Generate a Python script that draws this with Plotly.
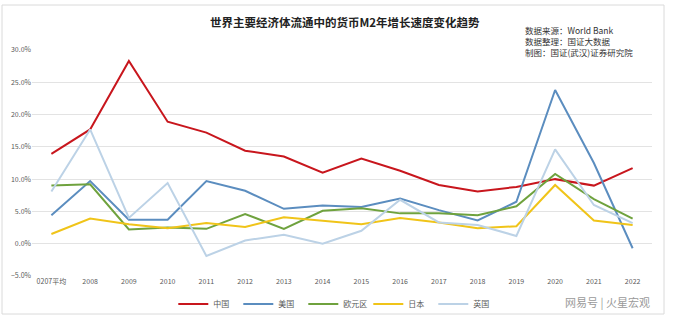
import plotly.graph_objects as go

categories = ["0207平均", "2008", "2009", "2010", "2011", "2012", "2013", "2014",
              "2015", "2016", "2017", "2018", "2019", "2020", "2021", "2022"]
china = [13.9, 17.7, 28.3, 18.9, 17.2, 14.4, 13.5, 11.0, 13.2, 11.3, 9.1, 8.1, 8.8, 10.0, 9.0, 11.7]
usa = [4.4, 9.7, 3.7, 3.7, 9.7, 8.2, 5.4, 5.9, 5.7, 7.0, 5.2, 3.6, 6.5, 23.8, 12.5, -0.7]
euro = [9.0, 9.2, 2.2, 2.5, 2.3, 4.6, 2.3, 5.1, 5.5, 4.7, 4.7, 4.4, 5.8, 10.8, 6.9, 3.9]
japan = [1.5, 3.9, 3.0, 2.4, 3.2, 2.6, 4.1, 3.6, 3.0, 4.0, 3.3, 2.4, 2.7, 9.1, 3.6, 2.9]
uk = [8.1, 17.7, 4.0, 9.4, -1.9, 0.5, 1.4, 0.0, 2.0, 6.8, 3.3, 2.9, 1.2, 14.6, 6.0, 3.2]

series = [
    ("中国", china, "#C8161D"),
    ("美国", usa, "#5B8DBF"),
    ("欧元区", euro, "#6FA23E"),
    ("日本", japan, "#F0C419"),
    ("英国", uk, "#BCD2E6"),
]

FONT = "Noto Sans CJK SC"
fig = go.Figure()
for name, vals, col in series:
    fig.add_trace(go.Scatter(x=categories, y=vals, name=name, mode="lines",
                             line=dict(color=col, width=2)))

fig.update_layout(
    width=673, height=333,
    margin=dict(l=32, r=21, t=50, b=57),
    paper_bgcolor="white", plot_bgcolor="white",
    font=dict(family=FONT, size=7, color="#595959"),
    showlegend=True,
    legend=dict(orientation="h", x=0.49, xanchor="center", y=-0.06, yanchor="top",
                font=dict(size=8, color="#595959", family=FONT), itemwidth=30,
                entrywidth=20, entrywidthmode="pixels",
                bgcolor="rgba(0,0,0,0)", tracegroupgap=0),
    xaxis=dict(type="category", range=[-0.5, 15.5], showgrid=False, showline=False,
               zeroline=False, ticks="", tickfont=dict(size=7, color="#595959")),
    yaxis=dict(range=[-5, 30], dtick=5, tickformat=".1f", ticksuffix="%",
               showgrid=True, gridcolor="#E3E3E3", gridwidth=1, zeroline=False,
               showline=False, ticks="", tickfont=dict(size=7, color="#595959")),
)

fig.add_annotation(text="<b>世界主要经济体流通中的货币M2年增长速度变化趋势</b>",
                   xref="paper", yref="paper", x=(345 - 32) / 620, y=(276 - 22) / 226,
                   xanchor="center", yanchor="middle", showarrow=False,
                   font=dict(size=11.5, color="#222222", family=FONT))
fig.add_annotation(text="数据来源：World Bank<br>数据整理：国证大数据<br>制图：国证(武汉)证券研究院",
                   xref="paper", yref="paper", x=(523 - 32) / 620, y=(276 - 22) / 226,
                   xanchor="left", yanchor="top", align="left", showarrow=False,
                   font=dict(size=8.5, color="#333333", family=FONT))
fig.add_annotation(text="网易号 | 火星宏观",
                   xref="paper", yref="paper", x=(652 - 32) / 620, y=(276 - 302) / 226,
                   xanchor="right", yanchor="middle", showarrow=False,
                   font=dict(size=11, color="#9A9A9A", family=FONT))
fig.add_shape(type="rect", xref="paper", yref="paper",
              x0=(2 - 32) / 620, x1=(664 - 32) / 620,
              y0=(276 - 314) / 226, y1=(276 - 5) / 226,
              line=dict(color="#DADADA", width=1), fillcolor="rgba(0,0,0,0)", layer="below")

fig.write_html("out.html")
